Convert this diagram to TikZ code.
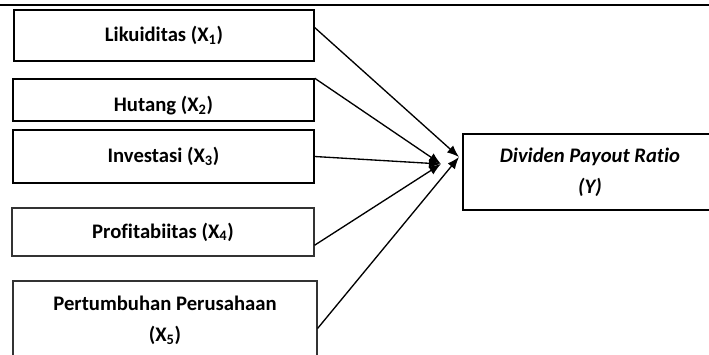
\documentclass[tikz,border=0pt]{standalone}
\usepackage{fontspec}
\setmainfont{Carlito}[Ligatures = NoCommon]
\usetikzlibrary{arrows.meta}

\begin{document}
\begin{tikzpicture}[> = {Latex[length = 9pt, width = 7pt]}, x = 0.75pt, y = -0.75pt,
	varbox/.style = {draw, line width = 1.1pt, inner sep = 0pt,
		font = \fontsize{15.5}{23}\selectfont\bfseries, align = center},
	thinbox/.style = {varbox, line width = 0.8pt, draw = black!80},
	link/.style = {->, line width = 1pt}]

	% Page
	
	\useasboundingbox (0, 0) rectangle (709, 354);
	\draw [line width = 1.6pt] (0, 5) -- (709, 5);

	% Independent variables

	\node [varbox, minimum width = 225pt, minimum height = 38.25pt] (likuid) at (164, 35.5) {Likuiditas (X\textsubscript{1})};
	\node [varbox, minimum width = 225.75pt, minimum height = 31.5pt] (hutang) at (163.5, 100) {};
	\node [varbox, minimum width = 225.75pt, minimum height = 39.75pt] (invest) at (163.5, 156.5) {Investasi (X\textsubscript{3})};
	\node [thinbox, minimum width = 226.5pt, minimum height = 36pt] (profit) at (163, 232) {Profitabiitas (X\textsubscript{4})};
	\node [thinbox, minimum width = 228pt, minimum height = 59.25pt] (tumbuh) at (165, 320.5) {Pertumbuhan Perusahaan\\(X\textsubscript{5})};
	
	% Label of Hutang runs past its box
	
	\begin{scope}
		\clip (hutang.south west) rectangle (hutang.north east);
		\node [font = \fontsize{15.5}{23}\selectfont\bfseries] (hutangtext) at (163.5, 106) {Hutang (X\textsubscript{2})};
	\end{scope}

	% Dependent variable

	\node [varbox, minimum width = 190.5pt, minimum height = 57pt, font = \fontsize{15.5}{23}\selectfont\bfseries\itshape] (dpr) at (590, 172) {\raisebox{-3pt}{\begin{tabular}{@{}c@{}}Dividen Payout Ratio\\(Y)\end{tabular}}};

	% Arrow meeting points
	
	\coordinate (hubA) at (441, 164);
	\coordinate (hubB) at (459, 157);

	% Arrows

	\draw [link] (likuid.3) -- (hubB);
	\draw [link] (hutang.north east) -- (hubA);
	\draw [link] (invest.east) -- (hubA);
	\draw [link] (profit.-5) -- (hubA);
	\draw [link] (tumbuh.-3) -- (hubB);

\end{tikzpicture}
\end{document}
